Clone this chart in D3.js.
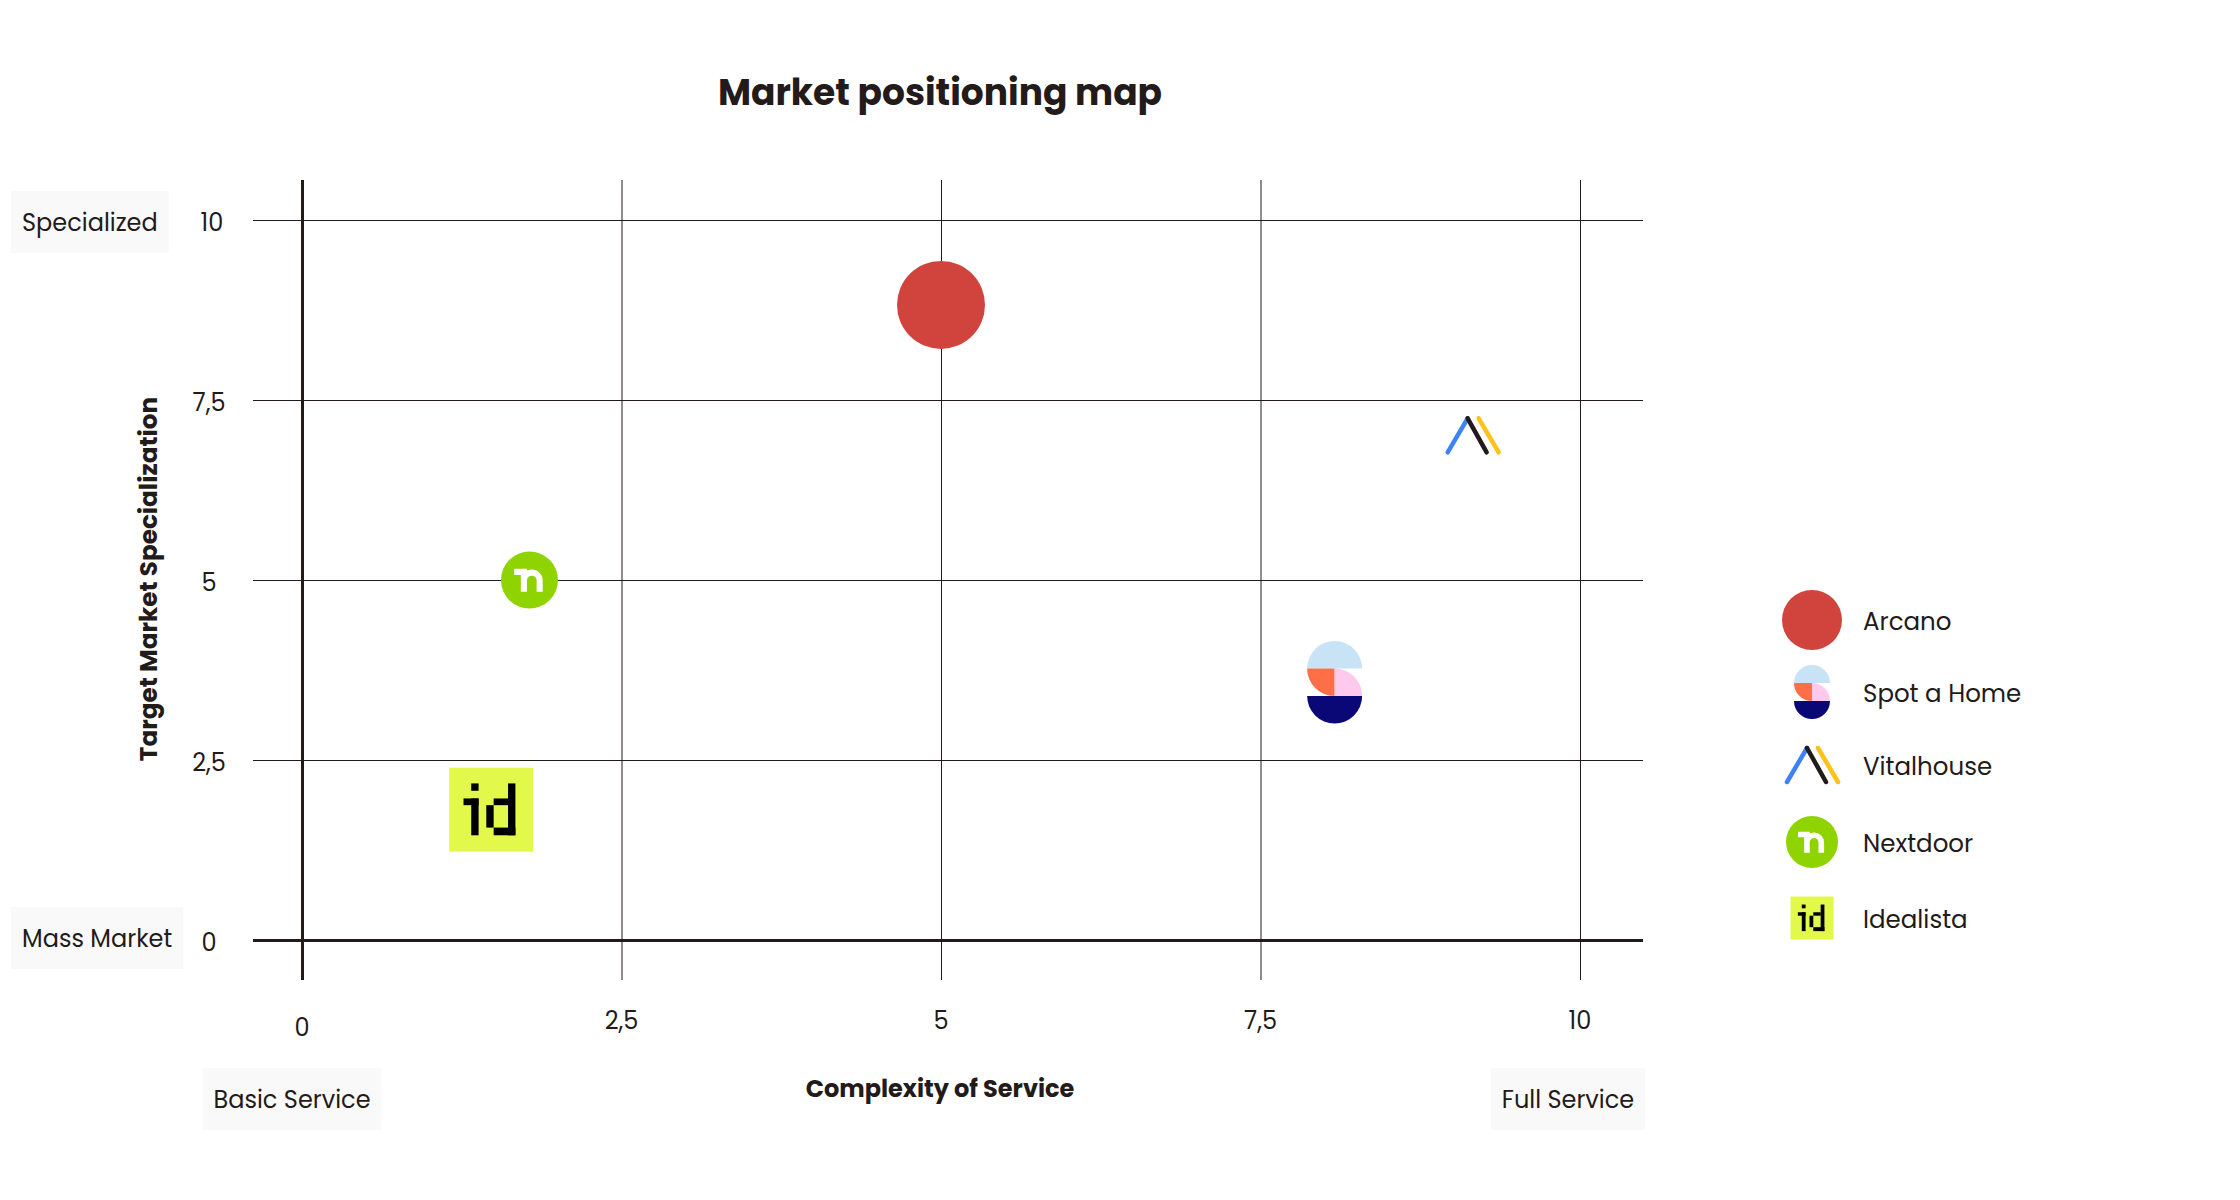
<!DOCTYPE html>
<html>
<head>
<meta charset="utf-8">
<script src="https://cdn.jsdelivr.net/npm/d3@7"></script>
<style>
  body { margin: 0; background: #fff; }
  text { font-family: Poppins, Inter, "Noto Sans", sans-serif; fill: #231a1a; }
</style>
</head>
<body>
<div id="chart"></div>
<script>
// data
const companies = ["Arcano", "Spot a Home", "Vitalhouse", "Nextdoor", "Idealista"];
const complexity = [5.0, 8.08, 9.16, 1.78, 1.48];
const specialization = [8.82, 3.58, 7.01, 5.0, 1.81];
const xTicks = [0, 2.5, 5, 7.5, 10];
const xTickLabels = ["0", "2,5", "5", "7,5", "10"];
const yTicks = [0, 2.5, 5, 7.5, 10];
const yTickLabels = ["0", "2,5", "5", "7,5", "10"];

const W = 2240, H = 1200;
const INK = "#231a1a";

let svg = d3.select("#chart").append("svg")
    .attr("width", W).attr("height", H);

const x = d3.scaleLinear().domain([0, 10]).range([302, 1580]);
const y = d3.scaleLinear().domain([0, 10]).range([940, 220]);
const gridLeft = 253, gridRight = 1643, gridTop = 180, gridBottom = 980;

// title
svg.append("text")
    .attr("x", 940).attr("y", 92)
    .attr("text-anchor", "middle").attr("dominant-baseline", "central")
    .attr("font-size", 36).attr("font-weight", 700)
    .text("Market positioning map");

// horizontal grid (y axis, no labels)
svg.append("g")
    .attr("transform", `translate(${gridLeft},0)`)
    .call(d3.axisRight(y).tickValues(yTicks).tickSize(gridRight - gridLeft).tickFormat(""))
    .call(g => g.select(".domain").remove())
    .call(g => g.selectAll("line").attr("stroke", INK).attr("stroke-width", d => d === 0 ? 3 : 1));

// vertical grid
svg.append("g")
    .attr("transform", `translate(0,${gridTop})`)
    .call(d3.axisBottom(x).tickValues(xTicks).tickSize(gridBottom - gridTop).tickFormat(""))
    .call(g => g.select(".domain").remove())
    .call(g => g.selectAll("line").attr("stroke", INK).attr("stroke-width", d => d === 0 ? 3 : 1));

// y tick labels
svg.selectAll(".ylab").data(yTicks).join("text")
    .attr("class", "ylab")
    .attr("x", d => d === 10 ? 212 : 209).attr("y", d => y(d) + 2)
    .attr("text-anchor", "middle").attr("dominant-baseline", "central")
    .attr("font-size", 24)
    .text((d, i) => yTickLabels[i]);

// x tick labels (0 sits a bit lower)
svg.selectAll(".xlab").data(xTicks).join("text")
    .attr("class", "xlab")
    .attr("x", d => x(d)).attr("y", d => d === 0 ? 1027 : 1020)
    .attr("text-anchor", "middle").attr("dominant-baseline", "central")
    .attr("font-size", 24)
    .text((d, i) => xTickLabels[i]);

// axis titles
svg.append("text")
    .attr("x", 940).attr("y", 1088)
    .attr("text-anchor", "middle").attr("dominant-baseline", "central")
    .attr("font-size", 24).attr("font-weight", 700)
    .text("Complexity of Service");

svg.append("text")
    .attr("transform", "translate(148,579) rotate(-90)")
    .attr("text-anchor", "middle").attr("dominant-baseline", "central")
    .attr("font-size", 24.7).attr("font-weight", 700)
    .text("Target Market Specialization");

// end labels with pale boxes
function boxLabel(txt, tx, ty, anchor) {
    const g = svg.append("g");
    const rect = g.append("rect").attr("fill", "#f9f9f9");
    const t = g.append("text")
        .attr("x", tx).attr("y", ty)
        .attr("text-anchor", anchor).attr("dominant-baseline", "central")
        .attr("font-size", 24)
        .text(txt);
    const b = t.node().getBBox();
    rect.attr("x", b.x - 11).attr("y", ty - 31)
        .attr("width", b.width + 22).attr("height", 62);
}
boxLabel("Specialized", 22, y(10) + 2, "start");
boxLabel("Mass Market", 22, y(0) - 2, "start");
boxLabel("Basic Service", x(0) - 10, 1099, "middle");
boxLabel("Full Service", x(10) - 12, 1099, "middle");

// logo marks
function arcano(g, s) {
    g.append("circle").attr("r", s).attr("fill", "#d1443d");
}
function spotahome(g, r) {
    const h = r / 2;
    g.append("path").attr("fill", "#c8e3f6")
        .attr("d", `M${-r},${-h} A${r},${r} 0 0 1 ${r},${-h} Z`);
    g.append("path").attr("fill", "#ff6f47")
        .attr("d", `M0,${-h} L${-r},${-h} A${r},${r} 0 0 0 0,${h} Z`);
    g.append("path").attr("fill", "#ffc9ee")
        .attr("d", `M0,${h} L0,${-h} A${r},${r} 0 0 1 ${r},${h} Z`);
    g.append("path").attr("fill", "#0a0777")
        .attr("d", `M${-r},${h} A${r},${r} 0 0 0 ${r},${h} Z`);
}
function vitalhouse(g, k) {
    const segs = [
        [[-25, 17], [-5, -17], "#3f82f5"],
        [[-5, -17], [14, 17], INK],
        [[6, -17], [26, 17], "#ffc21a"]
    ];
    segs.forEach(s => {
        g.append("line")
            .attr("x1", s[0][0] * k).attr("y1", s[0][1] * k)
            .attr("x2", s[1][0] * k).attr("y2", s[1][1] * k)
            .attr("stroke", s[2]).attr("stroke-width", 4.5).attr("stroke-linecap", "round");
    });
}
function nextdoor(g, r) {
    const k = r / 28;
    g.append("circle").attr("r", r).attr("fill", "#8fd400");
    g.append("path")
        .attr("transform", `scale(${k})`)
        .attr("fill", "none").attr("stroke", "#fff").attr("stroke-width", 6)
        .attr("d", "M-15,-8 H-5.5 V11.5 M-5.5,0.5 A7.75,7.75 0 0 1 10,0.5 V11.5");
}
function idealista(g, s) {
    const k = s / 251;
    g.append("rect").attr("x", -s / 2).attr("y", -s / 2).attr("width", s).attr("height", s)
        .attr("fill", "#e2f84b");
    const px = [
        [123, 100, 22, 22], [100, 145, 45, 20], [123, 145, 22, 110],
        [190, 145, 43, 20], [168, 165, 22, 67], [190, 232, 65, 23], [233, 100, 22, 155]
    ];
    g.selectAll(".px").data(px).join("rect")
        .attr("x", d => (d[0] - 57) * k - s / 2).attr("y", d => (d[1] - 53) * k - s / 2)
        .attr("width", d => d[2] * k).attr("height", d => d[3] * k)
        .attr("fill", "#000");
}
const drawers = [arcano, spotahome, vitalhouse, nextdoor, idealista];
const plotSize = [44, 27.5, 1, 28.5, 84];
const legendSize = [30, 18, 1, 26, 43];

// points
companies.forEach((c, i) => {
    const g = svg.append("g")
        .attr("transform", `translate(${x(complexity[i])},${y(specialization[i])})`);
    drawers[i](g, plotSize[i]);
});

// legend
const legendY = [620, 692, 765, 842, 918];
companies.forEach((c, i) => {
    const g = svg.append("g").attr("transform", `translate(1812,${legendY[i]})`);
    drawers[i](g, legendSize[i]);
    svg.append("text")
        .attr("x", 1863).attr("y", legendY[i] + 1)
        .attr("dominant-baseline", "central")
        .attr("font-size", 24.5)
        .text(c);
});
</script>
</body>
</html>
